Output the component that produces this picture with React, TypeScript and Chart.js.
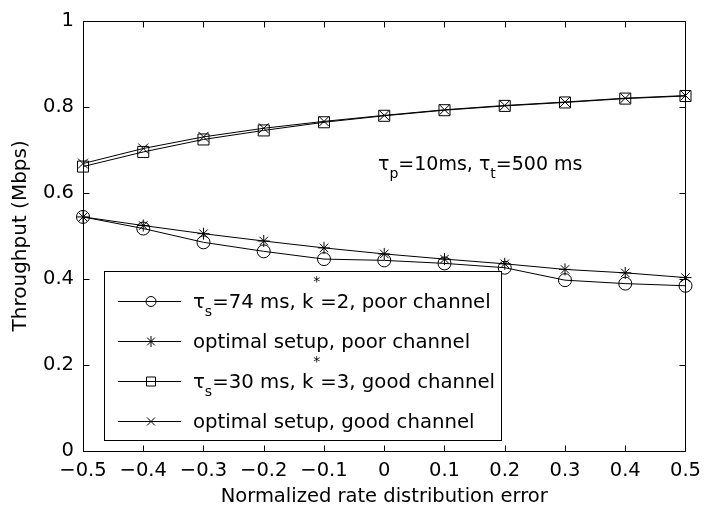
import React, { useEffect, useRef } from 'react';
import { Chart, registerables } from 'chart.js';

Chart.register(...registerables);

// ---------- data ----------
const xValues = [-0.5, -0.4, -0.3, -0.2, -0.1, 0, 0.1, 0.2, 0.3, 0.4, 0.5];
const poorFixed = [0.544, 0.517, 0.485, 0.464, 0.446, 0.443, 0.436, 0.426, 0.397, 0.389, 0.384];
const poorOptimal = [0.544, 0.524, 0.505, 0.488, 0.472, 0.458, 0.446, 0.435, 0.422, 0.414, 0.403];
const goodFixed = [0.661, 0.695, 0.724, 0.745, 0.764, 0.779, 0.792, 0.802, 0.810, 0.819, 0.825];
const goodOptimal = [0.668, 0.703, 0.730, 0.750, 0.766, 0.780, 0.793, 0.803, 0.811, 0.820, 0.826];

const xTitle = 'Normalized rate distribution error';
const yTitle = 'Throughput (Mbps)';

type Part = [string, string]; // [kind, text]  kind: n | sub | sup
const legendEntries: { parts: Part[]; marker: string }[] = [
  { parts: [['n', 'τ'], ['sub', 's'], ['n', '=74 ms, k'], ['sup', '*'], ['n', '=2, poor channel']], marker: 'circle' },
  { parts: [['n', 'optimal setup, poor channel']], marker: 'star' },
  { parts: [['n', 'τ'], ['sub', 's'], ['n', '=30 ms, k'], ['sup', '*'], ['n', '=3, good channel']], marker: 'rect' },
  { parts: [['n', 'optimal setup, good channel']], marker: 'crossRot' },
];
const annotationParts: Part[] = [['n', 'τ'], ['sub', 'p'], ['n', '=10ms, '], ['n', 'τ'], ['sub', 't'], ['n', '=500 ms']];

const FONT = '"DejaVu Sans"';

function fmtX(v: number) {
  const r = Math.round(v * 10) / 10;
  return r < 0 ? '\u2212' + String(-r) : String(r);
}
function fmtY(v: number) {
  return String(Math.round(v * 10) / 10);
}

function drawRich(ctx: CanvasRenderingContext2D, parts: Part[], x: number, y: number, main: number) {
  let cx = x;
  ctx.textAlign = 'left';
  ctx.textBaseline = 'alphabetic';
  ctx.fillStyle = '#000';
  for (const [kind, text] of parts) {
    const size = kind === 'n' ? main : 14;
    ctx.font = `${size}px ${FONT}`;
    const dy = kind === 'sub' ? 8 : kind === 'sup' ? -22 : 0;
    ctx.fillText(text, cx, y + dy);
    cx += ctx.measureText(text).width;
  }
}

function drawMarker(ctx: CanvasRenderingContext2D, kind: string, x: number, y: number) {
  ctx.beginPath();
  if (kind === 'circle') {
    ctx.arc(x, y, 5, 0, Math.PI * 2);
  } else if (kind === 'rect') {
    ctx.rect(x - 4.5, y - 4.5, 9, 9);
  } else if (kind === 'star') {
    const r = 5.5;
    ctx.moveTo(x - r, y); ctx.lineTo(x + r, y);
    ctx.moveTo(x, y - r); ctx.lineTo(x, y + r);
    const d = r * Math.SQRT1_2;
    ctx.moveTo(x - d, y - d); ctx.lineTo(x + d, y + d);
    ctx.moveTo(x - d, y + d); ctx.lineTo(x + d, y - d);
  } else if (kind === 'crossRot') {
    const d = 4;
    ctx.moveTo(x - d, y - d); ctx.lineTo(x + d, y + d);
    ctx.moveTo(x - d, y + d); ctx.lineTo(x + d, y - d);
  }
  ctx.stroke();
}

const framePlugin = {
  id: 'frame',
  beforeDatasetsDraw(chart: any) {
    const { ctx, chartArea: a, scales } = chart;
    const xs = scales.x;
    const ys = scales.y;
    const L = Math.round(a.left) + 0.5;
    const R = Math.round(a.right) + 0.5;
    const T = Math.round(a.top) + 0.5;
    const B = Math.round(a.bottom) + 0.5;
    ctx.save();
    ctx.strokeStyle = '#000';
    ctx.lineWidth = 1;
    ctx.beginPath();
    ctx.rect(L, T, R - L, B - T);
    const tick = 6;
    xs.ticks.forEach((t: any) => {
      const px = Math.round(xs.getPixelForValue(t.value)) + 0.5;
      ctx.moveTo(px, B); ctx.lineTo(px, B - tick);
      ctx.moveTo(px, T); ctx.lineTo(px, T + tick);
    });
    ys.ticks.forEach((t: any) => {
      const py = Math.round(ys.getPixelForValue(t.value)) + 0.5;
      ctx.moveTo(L, py); ctx.lineTo(L + tick, py);
      ctx.moveTo(R, py); ctx.lineTo(R - tick, py);
    });
    ctx.stroke();
    ctx.restore();
  },
};

const overlayPlugin = {
  id: 'overlay',
  afterDatasetsDraw(chart: any) {
    const { ctx } = chart;
    ctx.save();
    // annotation
    drawRich(ctx, annotationParts, 378, 170, 19);
    // legend box
    const bx = 104.5, by = 271.5, bw = 397, bh = 169;
    ctx.fillStyle = '#fff';
    ctx.fillRect(bx, by, bw, bh);
    ctx.strokeStyle = '#000';
    ctx.lineWidth = 1;
    ctx.strokeRect(bx, by, bw, bh);
    legendEntries.forEach((e, i) => {
      const cy = Math.round(by + 29 + 40 * i) + 0.5;
      ctx.beginPath();
      ctx.moveTo(118, cy);
      ctx.lineTo(181, cy);
      ctx.stroke();
      drawMarker(ctx, e.marker, 151, cy);
      drawRich(ctx, e.parts, 193, by + 36 + 40 * i, 19.7);
    });
    ctx.restore();
  },
};

function makeDataset(values: number[], style: string, radius: number) {
  return {
    data: xValues.map((x, i) => ({ x, y: values[i] })),
    showLine: true,
    borderColor: '#000',
    borderWidth: 1,
    backgroundColor: 'rgba(0,0,0,0)',
    pointStyle: style,
    pointRadius: radius,
    pointHoverRadius: radius,
    pointBorderColor: '#000',
    pointBackgroundColor: 'rgba(0,0,0,0)',
    pointBorderWidth: 1,
    tension: 0,
    clip: false as any,
  };
}

export default function App() {
  const ref = useRef<HTMLCanvasElement | null>(null);
  useEffect(() => {
    if (!ref.current) return;
    const tickFont = { family: FONT, size: 19.5 };
    const chart = new Chart(ref.current, {
      type: 'scatter',
      data: {
        datasets: [
          makeDataset(poorFixed, 'circle', 6.5),
          makeDataset(poorOptimal, 'star', 6),
          makeDataset(goodFixed, 'rect', 7.8),
          makeDataset(goodOptimal, 'crossRot', 7),
        ],
      },
      options: {
        responsive: false,
        animation: false,
        devicePixelRatio: 1,
        events: [],
        layout: { padding: { top: 15, right: 18, left: 0, bottom: 0 } },
        plugins: { legend: { display: false }, tooltip: { enabled: false } },
        scales: {
          x: {
            type: 'linear',
            min: -0.5,
            max: 0.5,
            ticks: {
              stepSize: 0.1,
              padding: 8,
              color: '#000',
              font: tickFont,
              maxRotation: 0,
              autoSkip: false,
              callback: (v: any) => fmtX(Number(v)),
            },
            grid: { display: false, drawTicks: false },
            border: { display: false },
            title: {
              display: true,
              text: xTitle,
              color: '#000',
              font: { family: FONT, size: 19.5, lineHeight: 1 },
              padding: { top: 0, bottom: 0 },
            },
            afterFit: (s: any) => { s.height = 56; },
          },
          y: {
            type: 'linear',
            min: 0,
            max: 1,
            ticks: {
              stepSize: 0.2,
              padding: 9,
              color: '#000',
              font: tickFont,
              callback: (v: any) => fmtY(Number(v)),
            },
            grid: { display: false, drawTicks: false },
            border: { display: false },
            title: {
              display: true,
              text: yTitle,
              color: '#000',
              font: { family: FONT, size: 20, lineHeight: 1 },
              padding: { top: 11, bottom: 0 },
            },
            afterFit: (s: any) => { s.width = 83; },
          },
        },
      } as any,
      plugins: [framePlugin, overlayPlugin],
    });
    return () => chart.destroy();
  }, []);
  return (
    <div style={{ position: 'absolute', left: 0, top: 0, width: 709, height: 507, background: '#fff' }}>
      <canvas ref={ref} width={709} height={507} style={{ display: 'block' }} />
    </div>
  );
}
